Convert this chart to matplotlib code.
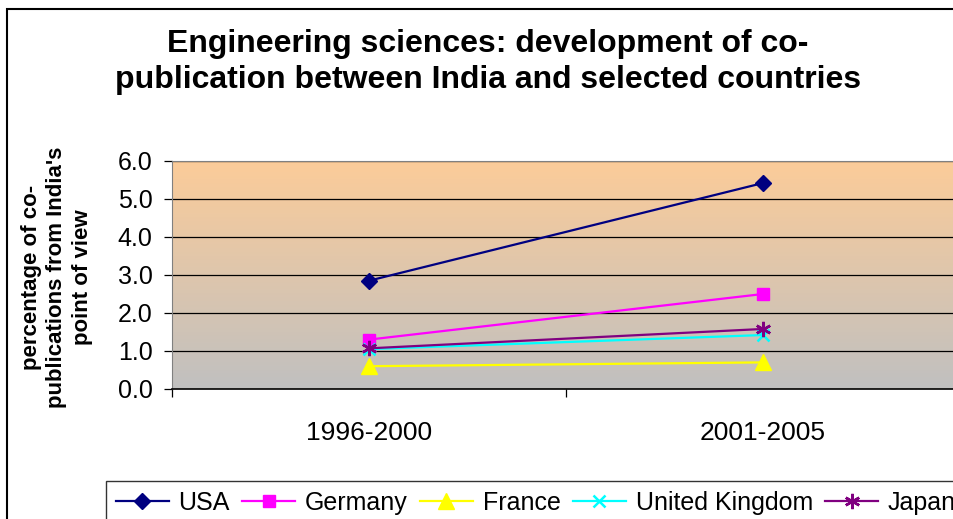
import matplotlib.pyplot as plt
import numpy as np
from matplotlib.colors import LinearSegmentedColormap
from matplotlib.patches import Rectangle

periods = ["1996-2000", "2001-2005"]
countries = ["USA", "Germany", "France", "United Kingdom", "Japan"]
usa = [2.85, 5.42]
germany = [1.30, 2.50]
france = [0.60, 0.70]
united_kingdom = [1.05, 1.42]
japan = [1.07, 1.58]
y_ticks = [0, 1, 2, 3, 4, 5, 6]

series = [usa, germany, france, united_kingdom, japan]
colors = ["#000080", "#FF00FF", "#FFFF00", "#00FFFF", "#800080"]
markers = ["D", "s", "^", "x", (6, 2, 0)]
msizes = [8, 9, 11, 9, 11]

W, H = 954, 519
fig = plt.figure(figsize=(W / 100, H / 100), dpi=100)

# chart frame (runs past the right and bottom edge, like the crop)
fig.patches.append(Rectangle((7 / W, -0.1), 1.2, 1 - 9 / H + 0.1, transform=fig.transFigure,
                             fill=False, edgecolor="black", linewidth=1.5))

left, right, top, bottom = 172, 960, 161, 389
ax = fig.add_axes([left / W, 1 - bottom / H, (right - left) / W, (bottom - top) / H])

# gradient plot area: peach on top, grey at the bottom
cmap = LinearSegmentedColormap.from_list("bg", ["#C0C0C0", "#FCCC99"])
grad = np.linspace(0, 1, 256).reshape(-1, 1)
ax.imshow(grad, cmap=cmap, origin="lower", aspect="auto",
          extent=(-0.5, 1.5, 0, 6), zorder=0)

x = np.arange(len(periods))
for vals, name, c, m, ms in zip(series, countries, colors, markers, msizes):
    ax.plot(x, vals, color=c, marker=m, markersize=ms, linewidth=1.6,
            markeredgewidth=1.8 if m in ("x", (6, 2, 0)) else 1,
            markeredgecolor=c, markerfacecolor=c, label=name, zorder=3)

ax.set_xlim(-0.5, 1.5)
ax.set_ylim(0, 6)
for yv in y_ticks[1:]:
    ax.axhline(yv, color="black", linewidth=0.9, zorder=1)

ax.set_yticks(y_ticks)
ax.set_yticklabels([f"{v:.1f}" for v in y_ticks], fontsize=18, family="Liberation Sans")
ax.tick_params(axis="y", length=6, width=0.9, pad=8, direction="out")

ax.set_xticks(x)
ax.set_xticklabels(periods, fontsize=19, family="Liberation Sans")
ax.tick_params(axis="x", which="major", length=0, pad=23)
ax.set_xticks([-0.5, 0.5, 1.5], minor=True)
ax.tick_params(axis="x", which="minor", length=6, width=0.9, direction="out")

ax.spines["top"].set_color("#808080")
ax.spines["left"].set_color("#808080")
ax.spines["bottom"].set_color("black")
ax.spines["bottom"].set_linewidth(1.2)

fig.text(57 / W, 1 - 277 / H, "percentage of co-\npublications from India's\npoint of view",
         rotation=90, ha="center", va="center", fontsize=16, fontweight="bold",
         family="Liberation Sans", linespacing=1.3)

fig.text(488 / W, 1 - 62 / H, "Engineering sciences: development of co-\npublication between India and selected countries",
         ha="center", va="center", fontsize=23, fontweight="bold",
         family="Liberation Sans", linespacing=1.3)

leg = fig.legend(loc="upper left", bbox_to_anchor=(106 / W, 1 - 481 / H), ncol=5,
                 frameon=True, fancybox=False, borderaxespad=0, handlelength=2.1,
                 handletextpad=0.4, columnspacing=0.5, borderpad=0.4,
                 prop={"family": "Liberation Sans", "size": 18})
leg.get_frame().set_edgecolor("black")
leg.get_frame().set_linewidth(1.0)

fig.savefig("out.png", dpi=100)
